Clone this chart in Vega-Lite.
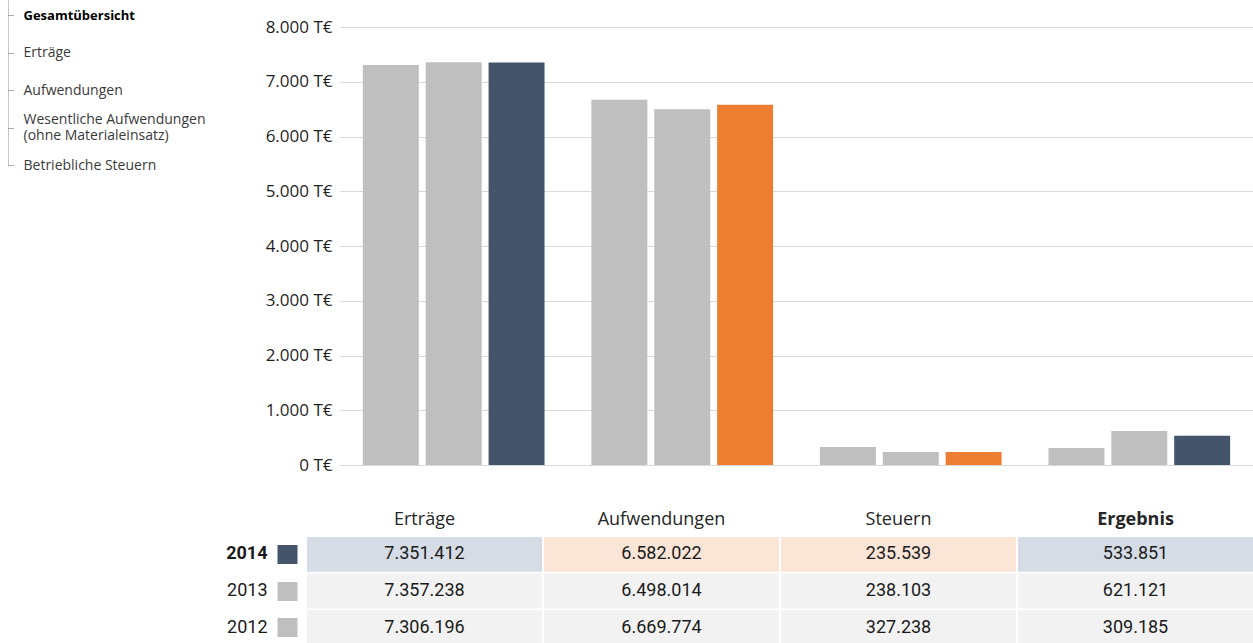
{
  "$schema": "https://vega.github.io/schema/vega-lite/v6.json",
  "padding": 0,
  "background": "white",
  "config": {
    "view": {"stroke": null},
    "locale": {"number": {"decimal": ",", "thousands": ".", "grouping": [3], "currency": ["", " €"]}}
  },
  "datasets": {
    "werte": [
      {"Kategorie": "Erträge", "Jahr": "2012", "Wert": 7306196},
      {"Kategorie": "Erträge", "Jahr": "2013", "Wert": 7357238},
      {"Kategorie": "Erträge", "Jahr": "2014", "Wert": 7351412},
      {"Kategorie": "Aufwendungen", "Jahr": "2012", "Wert": 6669774},
      {"Kategorie": "Aufwendungen", "Jahr": "2013", "Wert": 6498014},
      {"Kategorie": "Aufwendungen", "Jahr": "2014", "Wert": 6582022},
      {"Kategorie": "Steuern", "Jahr": "2012", "Wert": 327238},
      {"Kategorie": "Steuern", "Jahr": "2013", "Wert": 238103},
      {"Kategorie": "Steuern", "Jahr": "2014", "Wert": 235539},
      {"Kategorie": "Ergebnis", "Jahr": "2012", "Wert": 309185},
      {"Kategorie": "Ergebnis", "Jahr": "2013", "Wert": 621121},
      {"Kategorie": "Ergebnis", "Jahr": "2014", "Wert": 533851}
    ],
    "navigation": [
      {"Punkt": "Gesamtübersicht"},
      {"Punkt": "Erträge"},
      {"Punkt": "Aufwendungen"},
      {"Punkt": "Wesentliche Aufwendungen (ohne Materialeinsatz)"},
      {"Punkt": "Betriebliche Steuern"}
    ]
  },
  "spacing": 37,
  "vconcat": [
    {
      "bounds": "flush",
      "spacing": 332,
      "hconcat": [
        {
          "width": 8,
          "height": 165,
          "data": {"name": "navigation"},
          "mark": {"type": "point", "opacity": 0, "size": 1},
          "encoding": {
            "y": {
              "field": "Punkt",
              "type": "nominal",
              "sort": null,
              "scale": {"type": "point", "padding": 0.2, "align": 1},
              "axis": {
                "orient": "right",
                "title": null,
                "domainDash": [1, 1],
                "domainColor": "#8c8c8c",
                "tickDash": [1, 1],
                "tickColor": "#595959",
                "tickSize": 6,
                "labelPadding": 9,
                "labelFont": "Open Sans",
                "labelFontSize": {"condition": {"test": "datum.value == 'Gesamtübersicht'", "value": 13}, "value": 14},
                "labelLimit": 300,
                "labelLineHeight": 16,
                "labelOffset": {"condition": {"test": "indexof(datum.value, ' (') >= 0", "value": -8}, "value": 0},
                "labelExpr": "split(replace(datum.value, ' (', '|('), '|')",
                "labelColor": {"condition": {"test": "datum.value == 'Gesamtübersicht'", "value": "#000000"}, "value": "#3a3a3a"},
                "labelFontWeight": {"condition": {"test": "datum.value == 'Gesamtübersicht'", "value": "bold"}, "value": "normal"}
              }
            }
          }
        },
        {
          "width": 913,
          "height": 465,
          "data": {"name": "werte"},
          "mark": {"type": "bar"},
          "encoding": {
            "x": {
              "field": "Kategorie",
              "type": "nominal",
              "sort": ["Erträge", "Aufwendungen", "Steuern", "Ergebnis"],
              "scale": {"paddingInner": 0.205, "paddingOuter": 0.1},
              "axis": null
            },
            "xOffset": {
              "field": "Jahr",
              "type": "nominal",
              "sort": ["2012", "2013", "2014"],
              "scale": {"paddingInner": 0.11, "paddingOuter": 0}
            },
            "y": {
              "field": "Wert",
              "type": "quantitative",
              "scale": {"domain": [0, 8493151], "nice": false},
              "axis": {
                "title": null,
                "values": [0, 1000000, 2000000, 3000000, 4000000, 5000000, 6000000, 7000000, 8000000],
                "domain": false,
                "ticks": false,
                "labelPadding": 8,
                "gridColor": "#d9d9d9",
                "labelFont": "Open Sans",
                "labelFontSize": 17,
                "labelColor": "#1f1f1f",
                "labelExpr": "replace(format(datum.value / 1000, ',.0f'), ',', '.') + ' T€'"
              }
            },
            "color": {
              "condition": [
                {"test": "datum.Jahr == '2014' && (datum.Kategorie == 'Aufwendungen' || datum.Kategorie == 'Steuern')", "value": "#ed7d31"},
                {"test": "datum.Jahr == '2014'", "value": "#44546a"}
              ],
              "value": "#bfbfbf"
            }
          }
        }
      ]
    },
    {
      "bounds": "flush",
      "spacing": 299,
      "hconcat": [
        {
          "width": 8,
          "height": 1,
          "data": {"values": [{}]},
          "mark": {"type": "point", "opacity": 0, "size": 1}
        },
        {
          "width": 946,
          "height": 108,
          "data": {"name": "werte"},
          "encoding": {
            "x": {
              "field": "Kategorie",
              "type": "nominal",
              "sort": ["Erträge", "Aufwendungen", "Steuern", "Ergebnis"],
              "scale": {"paddingInner": 0.0085, "paddingOuter": 0},
              "axis": {
                "orient": "top",
                "title": null,
                "domain": false,
                "ticks": false,
                "labelAngle": 0,
                "labelPadding": 9,
                "labelFont": "Open Sans",
                "labelFontSize": 18,
                "labelColor": "#262626",
                "labelFontWeight": {"condition": {"test": "datum.value == 'Ergebnis'", "value": "bold"}, "value": "normal"}
              }
            },
            "y": {
              "field": "Jahr",
              "type": "nominal",
              "sort": "descending",
              "scale": {"paddingInner": 0.05, "paddingOuter": 0},
              "axis": {
                "title": null,
                "domain": false,
                "offset": 10,
                "tickSize": 20,
                "tickWidth": 19,
                "tickCap": "butt",
                "tickColor": {"condition": {"test": "datum.value == '2014'", "value": "#44546a"}, "value": "#bfbfbf"},
                "labelPadding": 10,
                "labelFont": "Roboto",
                "labelFontSize": 18,
                "labelColor": "#1a1a1a",
                "labelFontWeight": {"condition": {"test": "datum.value == '2014'", "value": "bold"}, "value": "normal"}
              }
            }
          },
          "layer": [
            {
              "mark": {"type": "rect"},
              "encoding": {
                "color": {
                  "condition": [
                    {"test": "datum.Jahr == '2014' && (datum.Kategorie == 'Aufwendungen' || datum.Kategorie == 'Steuern')", "value": "#fbe5d6"},
                    {"test": "datum.Jahr == '2014'", "value": "#d6dce5"}
                  ],
                  "value": "#f2f2f2"
                }
              }
            },
            {
              "mark": {"type": "text", "font": "Roboto", "fontSize": 18, "baseline": "middle"},
              "encoding": {
                "text": {"field": "Wert", "type": "quantitative", "format": ",.0f"},
                "color": {"value": "#1a1a1a"},
                "fontWeight": {"condition": {"test": "datum.Jahr == '2014'", "value": "bold"}, "value": "normal"}
              }
            }
          ]
        }
      ]
    }
  ]
}
